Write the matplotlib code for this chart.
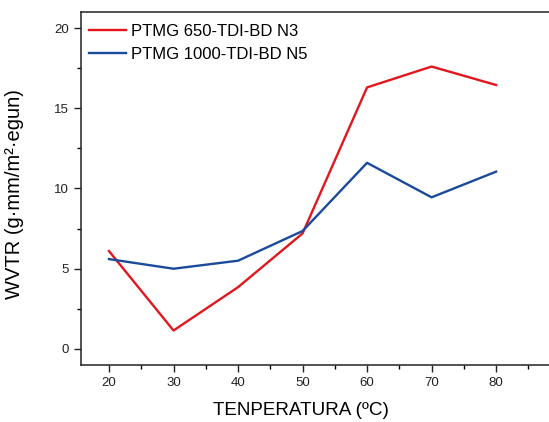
import matplotlib
matplotlib.use("Agg")
import matplotlib.pyplot as plt
from matplotlib.ticker import MultipleLocator

plt.rcParams['font.family'] = ['Liberation Sans', 'DejaVu Sans']

temps = [20, 30, 40, 50, 60, 70, 80]
ptmg650 = [6.1, 1.15, 3.85, 7.2, 16.3, 17.6, 16.45]
ptmg1000 = [5.6, 5.0, 5.5, 7.35, 11.6, 9.45, 11.05]
labels = ["PTMG 650-TDI-BD N3", "PTMG 1000-TDI-BD N5"]

fig = plt.figure(figsize=(5.49, 4.22), dpi=100)
ax = fig.add_axes([81/549, 57/422, 468/549, 353/422])

ax.plot(temps, ptmg650, color='#E3161D', lw=1.7, label=labels[0])
ax.plot(temps, ptmg1000, color='#1A4A9A', lw=1.7, label=labels[1])

ax.set_xlim(15.66, 88.2)
ax.set_ylim(-1.0, 21.0)
ax.xaxis.set_major_locator(MultipleLocator(10))
ax.xaxis.set_minor_locator(MultipleLocator(5))
ax.yaxis.set_major_locator(MultipleLocator(5))
ax.yaxis.set_minor_locator(MultipleLocator(2.5))
ax.tick_params(which='major', direction='out', length=5, width=1, labelsize=9.5, colors='#222222')
ax.tick_params(which='minor', direction='out', length=3, width=1)
ax.spines['right'].set_visible(False)
for s in ['left', 'bottom', 'top']:
    ax.spines[s].set_linewidth(1.1)
    ax.spines[s].set_color('#222222')

ax.set_xlabel("TENPERATURA (ºC)", fontsize=13.6)
ax.xaxis.set_label_coords(0.470, -0.105)
ax.set_ylabel("WVTR (g·mm/m²·egun)", fontsize=14.5)
ax.yaxis.set_label_coords(-0.122, 0.485)

ax.legend(loc='upper left', frameon=False, fontsize=12, handlelength=2.2,
          handletextpad=0.3, borderaxespad=0.1, labelspacing=0.45,
          bbox_to_anchor=(0.0, 0.989))

fig.savefig("out.png", dpi=100)
